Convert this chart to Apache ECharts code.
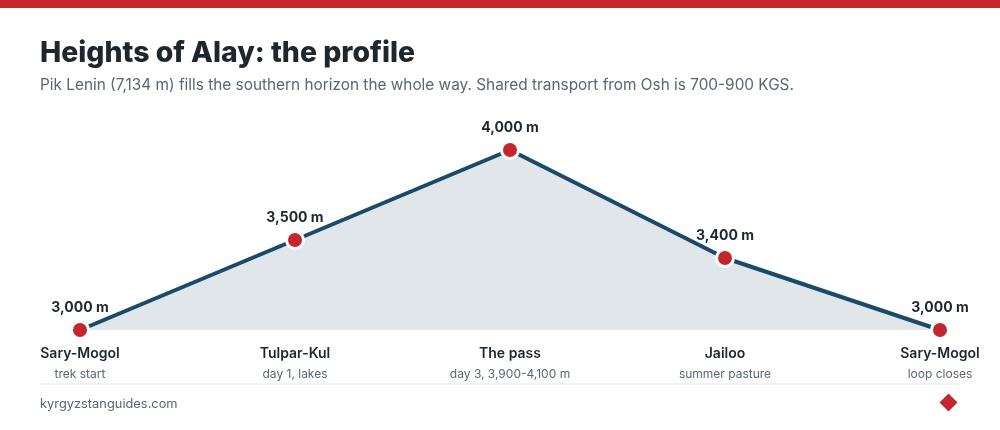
<!DOCTYPE html>
<html><head><meta charset="utf-8">
<style>html,body{margin:0;padding:0;background:#fff}#c{width:1000px;height:430px}</style>
<script src="https://cdn.jsdelivr.net/npm/echarts@6/dist/echarts.min.js"></script>
</head><body><div id="c"></div>
<script>
const places = ['Sary-Mogol','Tulpar-Kul','The pass','Jailoo','Sary-Mogol'];
const notes = ['trek start','day 1, lakes','day 3, 3,900-4,100 m','summer pasture','loop closes'];
const heights = [3000,3500,4000,3400,3000];
const titleText = 'Heights of Alay: the profile';
const subtitleText = 'Pik Lenin (7,134 m) fills the southern horizon the whole way. Shared transport from Osh is 700-900 KGS.';
const sourceText = 'kyrgyzstanguides.com';
const F = 'Inter, sans-serif';
const fmt = v => v.toLocaleString('en-US') + ' m';
const chart = echarts.init(document.getElementById('c'), null, {renderer:'canvas'});
chart.setOption({
  animation:false,
  backgroundColor:'#fff',
  title:[
    {text:titleText,left:40,top:39,padding:0,textStyle:{fontFamily:F,fontSize:28.4,fontWeight:800,color:'#1f262d'}},
    {text:subtitleText,left:40,top:78,padding:0,textStyle:{fontFamily:F,fontSize:15.36,fontWeight:400,color:'#5b6673'}}
  ],
  grid:{left:80,right:60,top:150,height:180,containLabel:false},
  xAxis:{type:'category',boundaryGap:false,data:places.map((p,i)=>i),
    axisLine:{show:false},axisTick:{show:false},splitLine:{show:false},
    axisLabel:{show:true,interval:0,margin:14,hideOverlap:false,
      formatter:(v,i)=>`{a|${places[i]}}\n{b|${notes[i]}}`,
      rich:{a:{fontFamily:F,fontSize:14,fontWeight:600,color:'#1f262d',lineHeight:20,align:'center'},
            b:{fontFamily:F,fontSize:12,color:'#5b6673',lineHeight:20,align:'center'}}}},
  yAxis:{type:'value',min:3000,max:4000,show:false},
  series:[{type:'line',data:heights,clip:false,symbol:'circle',symbolSize:17,
    lineStyle:{color:'#1a4a6b',width:4},
    itemStyle:{color:'#c4262e',borderColor:'#fff',borderWidth:3},
    areaStyle:{color:'#e1e6ea',opacity:1},
    label:{show:true,position:'top',distance:5,formatter:p=>fmt(p.value),
      fontFamily:F,fontSize:14,fontWeight:700,color:'#1f262d'}}],
  graphic:[
    {type:'rect',left:0,top:0,shape:{width:1000,height:8},style:{fill:'#c4262e'}},
    {type:'rect',left:40,top:383,shape:{width:920,height:2},style:{fill:'#f1f2f4'}},
    {type:'text',left:40,top:398,style:{text:sourceText,fontFamily:F,fontSize:12.85,fill:'#5b6673'}},
    {type:'polygon',shape:{points:[[948.5,393.5],[957.5,402.5],[948.5,411.5],[939.5,402.5]]},style:{fill:'#c4262e'}}
  ]
});
</script></body></html>
